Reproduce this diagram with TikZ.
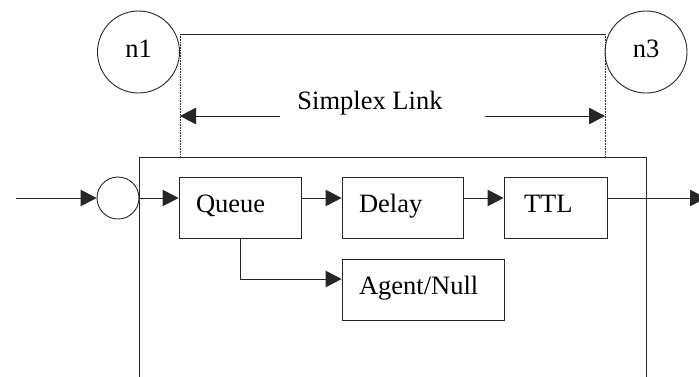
\documentclass[tikz,border=0pt]{standalone}
\usepackage{fontspec}
\setmainfont{Liberation Serif}
\usetikzlibrary{arrows.meta,calc}

\begin{document}
\begin{tikzpicture}[x=1pt,y=-1pt,
  line width=0.9pt, draw=black!85,
  every node/.style={font=\fontsize{26.5}{30}\selectfont},
  arr/.style={-{Triangle[length=16pt,width=16.5pt]}},
  guide/.style={densely dotted,line width=0.6pt},
  host/.style={circle,draw,minimum size=82pt,inner sep=0pt,text height=14pt,text depth=4pt},
  block/.style={rectangle,draw,minimum height=61pt,inner xsep=17pt,align=left,
    text height=14pt,text depth=5pt}]
\useasboundingbox (0,0) rectangle (699,376);

% the two end nodes and the link between them
\node[host] (n1) at (138.5,52) {n1};
\node[host] (n3) at (646,52) {n3};
\coordinate (tl) at (180,34);
\coordinate (tr) at (605,34);
\draw (tl) -- (tr);

% link object outline
\node[draw,rectangle,minimum width=507pt,minimum height=250pt,anchor=north west,inner sep=0pt] (link) at (139,157) {};

% dotted extent markers
\draw[guide] (tl) -- (tl |- link.north);
\draw[guide] (tr) -- (tr |- link.north);

% extent label with arrows
\node[anchor=base] (lbl) at (370,109) {Simplex Link};
\coordinate (sl) at (280,116);
\coordinate (sr) at (485,116);
\draw[arr] (sl) -- (sl -| tl);
\draw[arr] (sr) -- (sr -| tr);

% entry point and internal components
\coordinate (in) at (16,198);
\node[circle,draw,minimum size=42pt,inner sep=0pt] (entry) at (118,198) {};
\node[block,text width=88pt] (queue) at (240,207.5) {Queue};
\node[block,text width=87pt] (delay) at (402.5,207.5) {Delay};
\node[block,inner xsep=20pt,text width=63pt] (ttl) at (555.5,207.5) {TTL};
\node[block,text width=128pt] (agent) at (423,289.5) {Agent/Null};
\coordinate (out) at (706,198);

% packet flow
\draw[arr] (in) -- (entry);
\draw[arr] (entry.east) -- (entry.east -| queue.west);
\draw[arr] (entry -| queue.east) -- (entry -| delay.west);
\draw[arr] (entry -| delay.east) -- (entry -| ttl.west);
\draw[arr] (entry -| ttl.east) -- (out);
\draw[arr] (queue.south) |- ([yshift=10.5pt]agent.west);
\end{tikzpicture}
\end{document}
